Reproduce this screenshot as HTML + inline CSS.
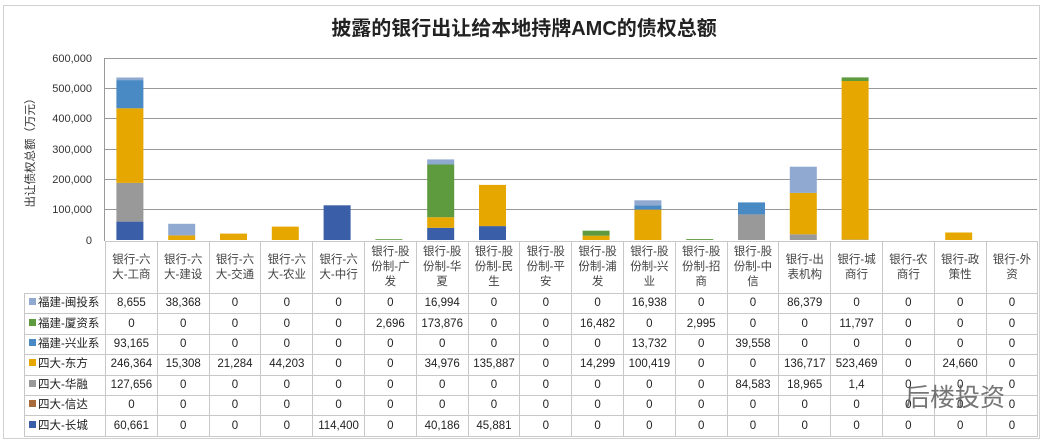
<!DOCTYPE html>
<html><head><meta charset="utf-8"><style>
body{margin:0;width:1041px;height:439px;background:#fff;overflow:hidden;position:relative;font-family:"Liberation Sans","Noto Sans CJK SC",sans-serif;}
svg{position:absolute;left:0;top:0}
table{position:absolute;left:24px;top:241px;border-collapse:collapse;table-layout:fixed;font-size:11.5px;color:#222}
td{border:1px solid #c8c8c8;padding:0;text-align:center;height:19.4px;line-height:13px;overflow:hidden;white-space:nowrap}
tr.h td{height:51px;white-space:normal;color:#444;font-size:11.5px;line-height:15px}
tr.h td.l{border:none;border-right:1px solid #c8c8c8;border-bottom:1px solid #c8c8c8}
td.l{text-align:left;padding-left:4px;width:76px}
.sq{display:inline-block;width:7px;height:7px;margin-right:2px;vertical-align:1px}
</style></head><body>
<svg width="1041" height="439">
<rect x="3.5" y="5.5" width="1036" height="433" fill="none" stroke="#d0d0d0"/>
<text x="524" y="35" text-anchor="middle" font-size="20" font-weight="bold" fill="#222" font-family="Liberation Sans,Noto Sans CJK SC,sans-serif">披露的银行出让给本地持牌AMC的债权总额</text>
<g stroke="#999" stroke-width="1">
<line x1="104" y1="58.5" x2="1037" y2="58.5"/><line x1="104" y1="88.5" x2="1037" y2="88.5"/>
<line x1="104" y1="118.5" x2="1037" y2="118.5"/><line x1="104" y1="149.5" x2="1037" y2="149.5"/>
<line x1="104" y1="179.5" x2="1037" y2="179.5"/><line x1="104" y1="209.5" x2="1037" y2="209.5"/>
<line x1="104.5" y1="58" x2="104.5" y2="241"/>
</g>
<g font-size="11" fill="#333" text-anchor="end" font-family="Liberation Sans,sans-serif">
<text x="92" y="62">600,000</text><text x="92" y="92">500,000</text><text x="92" y="122">400,000</text>
<text x="92" y="153">300,000</text><text x="92" y="183">200,000</text><text x="92" y="213">100,000</text><text x="92" y="244">0</text>
</g>
<text transform="translate(34,150) rotate(-90)" text-anchor="middle" font-size="11.5" fill="#333" font-family="Liberation Sans,Noto Sans CJK SC,sans-serif">出让债权总额（万元）</text>
<g>
<rect x="116.4" y="221.6" width="27" height="18.4" fill="#3A5FA8"/>
<rect x="116.4" y="182.9" width="27" height="38.7" fill="#999"/>
<rect x="116.4" y="108.3" width="27" height="74.6" fill="#E6A800"/>
<rect x="116.4" y="80.1" width="27" height="28.2" fill="#4A8AC4"/>
<rect x="116.4" y="77.5" width="27" height="2.6" fill="#8FA9D0"/>
<rect x="168.2" y="235.4" width="27" height="4.6" fill="#E6A800"/>
<rect x="168.2" y="223.8" width="27" height="11.6" fill="#8FA9D0"/>
<rect x="220" y="233.6" width="27" height="6.4" fill="#E6A800"/>
<rect x="271.8" y="226.6" width="27" height="13.4" fill="#E6A800"/>
<rect x="323.6" y="205.3" width="27" height="34.7" fill="#3A5FA8"/>
<rect x="375.4" y="239.2" width="27" height="0.8" fill="#5E9A3E"/>
<rect x="427.2" y="227.8" width="27" height="12.2" fill="#3A5FA8"/>
<rect x="427.2" y="217.2" width="27" height="10.6" fill="#E6A800"/>
<rect x="427.2" y="164.5" width="27" height="52.7" fill="#5E9A3E"/>
<rect x="427.2" y="159.4" width="27" height="5.1" fill="#8FA9D0"/>
<rect x="479" y="226.1" width="27" height="13.9" fill="#3A5FA8"/>
<rect x="479" y="184.9" width="27" height="41.2" fill="#E6A800"/>
<rect x="582.6" y="235.7" width="27" height="4.3" fill="#E6A800"/>
<rect x="582.6" y="230.7" width="27" height="5" fill="#5E9A3E"/>
<rect x="634.4" y="209.6" width="27" height="30.4" fill="#E6A800"/>
<rect x="634.4" y="205.4" width="27" height="4.2" fill="#4A8AC4"/>
<rect x="634.4" y="200.3" width="27" height="5.1" fill="#8FA9D0"/>
<rect x="686.2" y="239.1" width="27" height="0.9" fill="#5E9A3E"/>
<rect x="738" y="214.4" width="27" height="25.6" fill="#999"/>
<rect x="738" y="202.4" width="27" height="12" fill="#4A8AC4"/>
<rect x="789.8" y="234.3" width="27" height="5.7" fill="#999"/>
<rect x="789.8" y="192.9" width="27" height="41.4" fill="#E6A800"/>
<rect x="789.8" y="166.7" width="27" height="26.2" fill="#8FA9D0"/>
<rect x="841.6" y="239.6" width="27" height="0.4" fill="#999"/>
<rect x="841.6" y="81" width="27" height="158.6" fill="#E6A800"/>
<rect x="841.6" y="77.4" width="27" height="3.6" fill="#5E9A3E"/>
<rect x="945.2" y="232.5" width="27" height="7.5" fill="#E6A800"/>
</g>
</svg>
<table>
<colgroup><col style="width:80px"><col span="18" style="width:51.8px"></colgroup>
<tr class="h"><td class="l"></td><td>银行-六<br>大-工商</td><td>银行-六<br>大-建设</td><td>银行-六<br>大-交通</td><td>银行-六<br>大-农业</td><td>银行-六<br>大-中行</td><td>银行-股<br>份制-广<br>发</td><td>银行-股<br>份制-华<br>夏</td><td>银行-股<br>份制-民<br>生</td><td>银行-股<br>份制-平<br>安</td><td>银行-股<br>份制-浦<br>发</td><td>银行-股<br>份制-兴<br>业</td><td>银行-股<br>份制-招<br>商</td><td>银行-股<br>份制-中<br>信</td><td>银行-出<br>表机构</td><td>银行-城<br>商行</td><td>银行-农<br>商行</td><td>银行-政<br>策性</td><td>银行-外<br>资</td></tr>
<tr><td class="l"><span class="sq" style="background:#8FA9D0"></span>福建-闽投系</td><td>8,655</td><td>38,368</td><td>0</td><td>0</td><td>0</td><td>0</td><td>16,994</td><td>0</td><td>0</td><td>0</td><td>16,938</td><td>0</td><td>0</td><td>86,379</td><td>0</td><td>0</td><td>0</td><td>0</td></tr>
<tr><td class="l"><span class="sq" style="background:#5E9A3E"></span>福建-厦资系</td><td>0</td><td>0</td><td>0</td><td>0</td><td>0</td><td>2,696</td><td>173,876</td><td>0</td><td>0</td><td>16,482</td><td>0</td><td>2,995</td><td>0</td><td>0</td><td>11,797</td><td>0</td><td>0</td><td>0</td></tr>
<tr><td class="l"><span class="sq" style="background:#4A8AC4"></span>福建-兴业系</td><td>93,165</td><td>0</td><td>0</td><td>0</td><td>0</td><td>0</td><td>0</td><td>0</td><td>0</td><td>0</td><td>13,732</td><td>0</td><td>39,558</td><td>0</td><td>0</td><td>0</td><td>0</td><td>0</td></tr>
<tr><td class="l"><span class="sq" style="background:#E6A800"></span>四大-东方</td><td>246,364</td><td>15,308</td><td>21,284</td><td>44,203</td><td>0</td><td>0</td><td>34,976</td><td>135,887</td><td>0</td><td>14,299</td><td>100,419</td><td>0</td><td>0</td><td>136,717</td><td>523,469</td><td>0</td><td>24,660</td><td>0</td></tr>
<tr><td class="l"><span class="sq" style="background:#999"></span>四大-华融</td><td>127,656</td><td>0</td><td>0</td><td>0</td><td>0</td><td>0</td><td>0</td><td>0</td><td>0</td><td>0</td><td>0</td><td>0</td><td>84,583</td><td>18,965</td><td>1,4</td><td>0</td><td>0</td><td>0</td></tr>
<tr><td class="l"><span class="sq" style="background:#A86A3A"></span>四大-信达</td><td>0</td><td>0</td><td>0</td><td>0</td><td>0</td><td>0</td><td>0</td><td>0</td><td>0</td><td>0</td><td>0</td><td>0</td><td>0</td><td>0</td><td>0</td><td>0</td><td>0</td><td>0</td></tr>
<tr><td class="l"><span class="sq" style="background:#3A5FA8"></span>四大-长城</td><td>60,661</td><td>0</td><td>0</td><td>0</td><td>114,400</td><td>0</td><td>40,186</td><td>45,881</td><td>0</td><td>0</td><td>0</td><td>0</td><td>0</td><td>0</td><td>0</td><td>0</td><td>0</td><td>0</td></tr>
</table>
<div style="position:absolute;left:905px;top:378px;font-size:25px;color:#555;opacity:.8;font-family:'Noto Sans CJK SC',sans-serif">后楼投资</div>
</body></html>
